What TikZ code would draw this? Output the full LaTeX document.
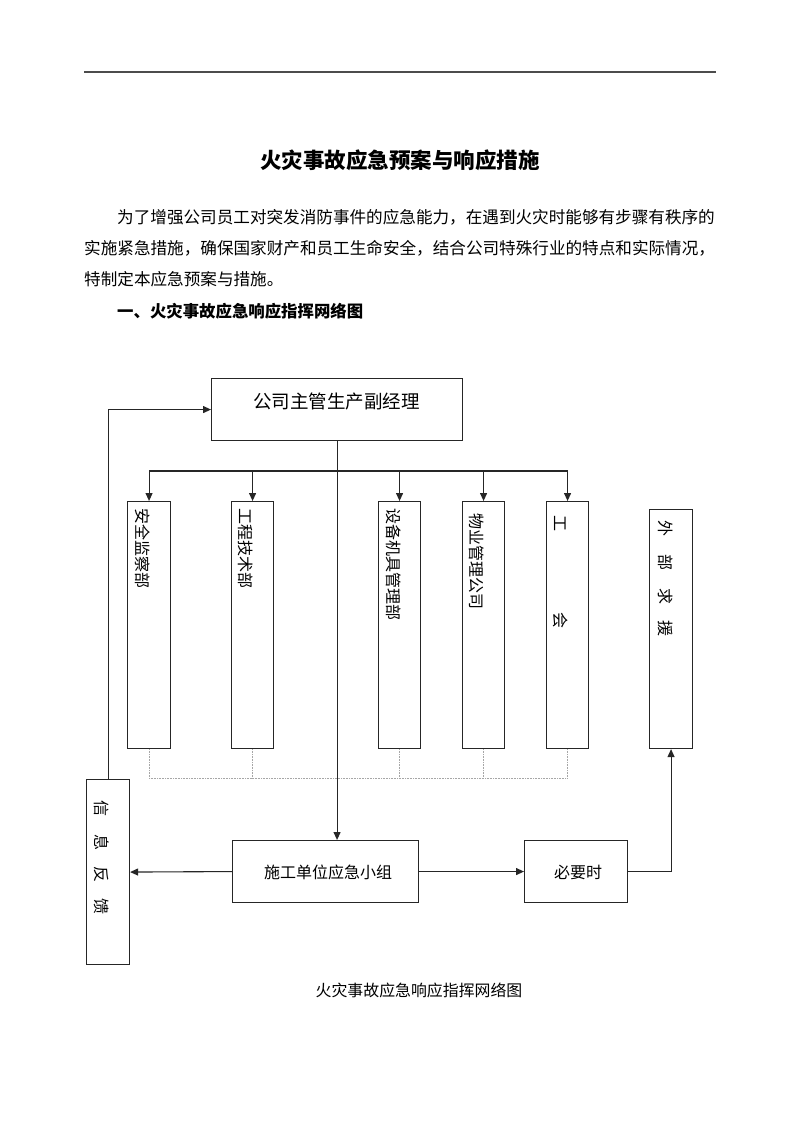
\documentclass[tikz,border=0pt]{standalone}
\usepackage{fontspec}
\setmainfont{Noto Sans CJK SC}
\newfontfamily\cjk{Noto Sans CJK SC}
\usetikzlibrary{arrows.meta}
\begin{document}
\begin{tikzpicture}[x=1pt,y=-1pt,
  box/.style={draw=black!85,line width=1.1pt,inner sep=0pt,anchor=north west},
  vtext/.style={rotate=-90,anchor=west,inner sep=0pt,font=\cjk\fontsize{16}{16}\selectfont},
  conn/.style={draw=black!85,line width=1.1pt},
  arr/.style={conn,-{Triangle[length=8pt,width=7pt]}},
  dots/.style={draw=black!35,densely dotted,line width=0.6pt},
  body/.style={inner sep=0pt,anchor=west,font=\cjk\fontsize{16.6}{16.6}\selectfont}]
\useasboundingbox[fill=white] (0,0) rectangle (800,1132);
% top rule
\coordinate (ruleL) at (84,72);
\coordinate (ruleR) at (716,72);
\draw[black!70,line width=1.5pt] (ruleL) -- (ruleR);
% title and text
\node[inner sep=0pt,font=\cjk\bfseries\fontsize{21.5}{21.5}\selectfont] (title) at (400,160) {火灾事故应急预案与响应措施};
\node[body] (p1) at (117,217) {为了增强公司员工对突发消防事件的应急能力，在遇到火灾时能够有步骤有秩序的};
\node[body] (p2) at (84,248) {实施紧急措施，确保国家财产和员工生命安全，结合公司特殊行业的特点和实际情况，};
\node[body] (p3) at (84,279) {特制定本应急预案与措施。};
\node[body,font=\cjk\bfseries\fontsize{16.4}{16.4}\selectfont] (h1) at (117,311) {一、火灾事故应急响应指挥网络图};
% boxes
\node[box,minimum width=251pt,minimum height=62pt] (top) at (211,378) {};
\node[inner sep=0pt,font=\cjk\fontsize{18.5}{18.5}\selectfont] (topt) at (336.5,401) {公司主管生产副经理};
\node[box,minimum width=43pt,minimum height=247pt] (b1) at (127,501) {};
\node[box,minimum width=42pt,minimum height=247pt] (b2) at (231,501) {};
\node[box,minimum width=42pt,minimum height=247pt] (b3) at (378,501) {};
\node[box,minimum width=42pt,minimum height=247pt] (b4) at (462,501) {};
\node[box,minimum width=42pt,minimum height=247pt] (b5) at (546,501) {};
\node[box,minimum width=43pt,minimum height=239pt] (ext) at (649,509) {};
\node[box,minimum width=43pt,minimum height=185pt] (fb) at (86,779) {};
\node[box,minimum width=186pt,minimum height=62pt] (team) at (232,840) {};
\node[box,minimum width=103pt,minimum height=62pt] (need) at (524,840) {};
% vertical texts
\node[vtext] (t1) at (142.5,508) {安全监察部};
\node[vtext] (t2) at (246,508) {工程技术部};
\node[vtext] (t3) at (393.5,508) {设备机具管理部};
\node[vtext] (t4) at (477,513) {物业管理公司};
\node[vtext] (t5) at (561,515) {工\hspace{81pt}会};
\node[vtext] (t6) at (666,520) {外\hspace{18pt}部\hspace{18pt}求\hspace{16pt}援};
\node[vtext] (t7) at (102,800) {信\hspace{18pt}息\hspace{16pt}反\hspace{16pt}馈};
\node[inner sep=0pt,font=\cjk\fontsize{16}{16}\selectfont] (teamt) at (328,872) {施工单位应急小组};
\node[inner sep=0pt,font=\cjk\fontsize{16}{16}\selectfont] (needt) at (578,872) {必要时};
% caption
\node[inner sep=0pt,font=\cjk\fontsize{15.9}{15.9}\selectfont] (cap) at (419,990) {火灾事故应急响应指挥网络图};
% connectors
\coordinate (bus) at (0,471);
\coordinate (dbus) at (0,778);
\draw[conn] (b1.north |- bus) -- (b5.north |- bus);
\foreach \b in {b1,b2,b3,b4,b5}{
  \draw[arr] (\b.north |- bus) -- (\b.north);
  \draw[dots] (\b.south) -- (\b.south |- dbus);
}
\draw[dots] (b1.south |- dbus) -- (b5.south |- dbus);
\draw[arr] (top.south) -- (top.south |- team.north);
\draw[arr] (team.west) -- (fb.east);
\draw[arr] (team.east) -- (need.west);
\draw[arr] (need.east) -- (ext.south |- need.east) -- (ext.south);
\draw[arr] (fb.north) -- (fb.north |- top.west) -- (top.west);
\end{tikzpicture}
\end{document}
